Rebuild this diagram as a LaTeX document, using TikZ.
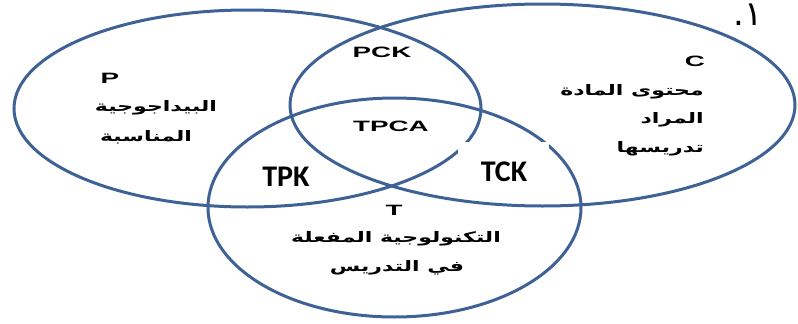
\documentclass[tikz,border=0pt]{standalone}
\usepackage{fontspec}
\usetikzlibrary{shapes.geometric}
\TeXXeTstate=1
\newfontfamily\latb{Liberation Sans}[FakeStretch=1.85]
\newfontfamily\calb{Carlito}
\newfontfamily\arabicfont[Script=Arabic,FakeStretch=1.52]{DejaVu Sans}
\newfontfamily\arabicnum[Script=Arabic]{DejaVu Sans}
\definecolor{ring}{RGB}{62,98,150}
\tikzset{
  ring/.style={draw=ring, line width=3pt, ellipse, inner sep=0pt, outer sep=0pt},
  lab/.style={inner sep=0pt, font=\latb\bfseries\fontsize{15}{15}\selectfont},
  big/.style={inner sep=0pt, font=\calb\bfseries\fontsize{30}{30}\selectfont},
  ar/.style={inner sep=0pt, font=\arabicfont\bfseries\fontsize{14.5}{14.5}\selectfont},
}
\begin{document}
\begin{tikzpicture}[x=1pt,y=-1pt]
\useasboundingbox (0,0) rectangle (798,324);
% circles
\node[ring, minimum width=467pt, minimum height=197pt] (P) at (247.5,108.5) {};
\node[ring, minimum width=505pt, minimum height=202pt] (C) at (542.5,105) {};
\node[ring, minimum width=373pt, minimum height=219pt] (T) at (394.5,207.5) {};
% white patch behind TCK
\fill[white] (458,142) rectangle (549,188);
% labels
\node[lab] (pcklab) at (382,52) {PCK};
\node[lab] (tpcalab) at (391,126) {TPCA};
\node[big] (tpklab) at (286,177) {TPK};
\node[big] (tcklab) at (504,172) {TCK};
\node[lab] (plab) at (110,78) {P};
\node[ar] (p1) at (156,108) {\beginR البيداجوجية\endR};
\node[ar] (p2) at (146,137) {\beginR المناسبة\endR};
\node[lab] (clab) at (695,61) {C};
\node[ar, anchor=east] (c1) at (704,92) {\beginR محتوى المادة\endR};
\node[ar, anchor=east] (c2) at (704,120) {\beginR المراد\endR};
\node[ar, anchor=east] (c3) at (704,149) {\beginR تدريسها\endR};
\node[lab] (tlab) at (394,210) {T};
\node[ar] (t1) at (396,239) {\beginR التكنولوجية المفعلة\endR};
\node[ar] (t2) at (397,268) {\beginR في التدريس\endR};
\node[inner sep=0pt, font=\arabicnum\fontsize{34}{34}\selectfont] (num) at (748,15) {\beginR ١.\endR};
\end{tikzpicture}
\end{document}
